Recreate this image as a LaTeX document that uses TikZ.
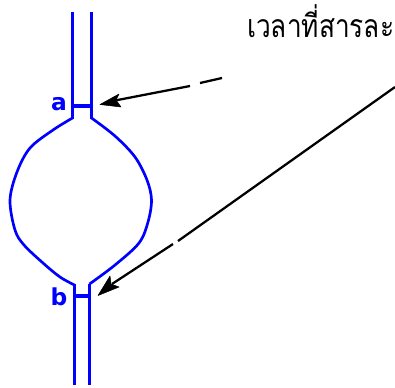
\documentclass[tikz,border=0pt]{standalone}
\usepackage{fontspec}
\newfontfamily\thaifont[Script=Thai]{Loma}
\newfontfamily\labelfont{DejaVu Sans}
\definecolor{tubeblue}{RGB}{0,0,255}
\tikzset{
  x=0.75pt,y=-0.75pt,
  tube/.style={draw=tubeblue,line width=2.3pt,line cap=butt},
  wall/.style={draw=tubeblue,line width=2pt,line join=round},
  pointer/.style={draw=black,line width=1.7pt},
  tipshape/.style={fill=black,draw=black,line width=.4pt,line join=round},
  letter/.style={text=tubeblue,font=\labelfont\bfseries\fontsize{17.5}{17.5}\selectfont,inner sep=0pt,anchor=base},
  caption/.style={font=\thaifont\fontsize{24}{26}\selectfont,inner sep=0pt,anchor=base west}
}
\begin{document}
\begin{tikzpicture}
\useasboundingbox (0,0) rectangle (395,387);
% named points
\coordinate (tl) at (72.5,12); \coordinate (tr) at (91.5,12);
\coordinate (jl) at (72.5,119); \coordinate (jr) at (91.5,119);
\coordinate (al) at (72.5,106); \coordinate (ar) at (91.5,106);
\coordinate (kl) at (74.5,284); \coordinate (kr) at (89.5,284);
\coordinate (bl) at (74.5,296); \coordinate (br) at (89.5,296);
\coordinate (el) at (74.5,385); \coordinate (er) at (89.5,385);
% tubes
\draw[tube] (tl) -- (jl);
\draw[tube] (tr) -- (jr);
\draw[tube] (al) -- (ar);
\draw[tube] (kl) -- (el);
\draw[tube] (kr) -- (er);
\draw[tube] (bl) -- (br);
% bulb
\draw[wall] plot[smooth,tension=.55] coordinates {(72.5,118) (53,130) (30,148) (17,172) (10,200) (15,230) (24,245) (43,263) (60,277) (74.5,285)};
\draw[wall] plot[smooth,tension=.55] coordinates {(91.5,118) (115,136) (135,157) (147,180) (151.5,200) (148,222) (139,243) (115,265) (89.5,284)};
% labels
\node[letter] (lblA) at (59,110) {a};
\node[letter] (lblB) at (59,305) {b};
\node[caption] (cap) at (247,37) {\scalebox{0.82}[1]{เวลาที่สารละ}};
% pointers
\coordinate (p1s) at (222,78); \coordinate (p1g) at (200,83);
\coordinate (p1h) at (190,86); \coordinate (p1e) at (115,100.5);
\coordinate (tipA) at (100,104.5);
\coordinate (p2s) at (395,87); \coordinate (p2g) at (178,241);
\coordinate (p2h) at (173,244); \coordinate (p2e) at (112,284);
\coordinate (tipB) at (98,295.5);
\draw[pointer] (p1s) -- (p1g);
\draw[pointer] (p1h) -- (p1e);
\draw[pointer] (p2s) -- (p2g);
\draw[pointer] (p2h) -- (p2e);
\fill[tipshape] (tipA) -- (119,94) -- (116,100) -- (121,107) -- cycle;
\fill[tipshape] (tipB) -- (110,276) -- (111,284) -- (119,287) -- cycle;
\end{tikzpicture}
\end{document}
